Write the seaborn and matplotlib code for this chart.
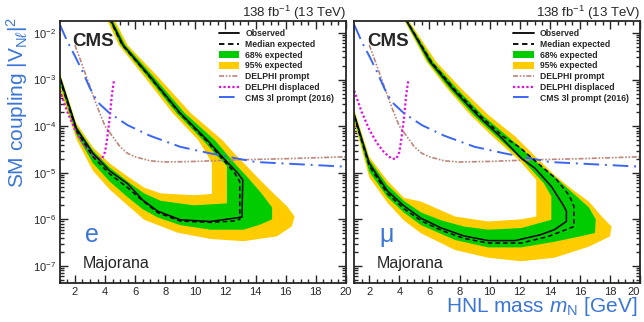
import matplotlib
matplotlib.use('Agg')
import matplotlib.pyplot as plt
import seaborn as sns
from matplotlib.lines import Line2D
from matplotlib.patches import Patch
from matplotlib.ticker import MultipleLocator, LogLocator, NullFormatter

# contours: (HNL mass [GeV], |V|^2)
# each one runs lower branch -> right tip -> upper branch
e_obs = [(1.0, 1.15e-3), (2.1, 9e-5), (3.2, 2.6e-5), (4.3, 1.1e-5), (5.5, 5.8e-6), (6.5, 2.6e-6),
         (7.5, 1.5e-6), (9.0, 9.8e-7), (11.0, 9.0e-7), (12.5, 1.05e-6), (13.1, 1.12e-6),
         (13.15, 7e-6), (12.8, 1.0e-5), (11.9, 2.0e-5), (10.8, 5.0e-5), (9.0, 1.9e-4),
         (7.0, 1.16e-3), (5.2, 5.5e-3), (4.35, 2e-2)]
e_exp = [(1.0, 1.0e-3), (2.1, 8e-5), (3.2, 2.2e-5), (4.3, 9.5e-6), (5.5, 4.8e-6), (6.5, 2.5e-6),
         (7.5, 1.4e-6), (9.0, 9.2e-7), (11.0, 8.6e-7), (12.5, 9.2e-7), (12.95, 1.0e-6),
         (12.95, 6.5e-6), (12.6, 1.0e-5), (11.8, 2.0e-5), (10.7, 5.0e-5), (8.95, 1.9e-4),
         (6.95, 1.16e-3), (5.15, 5.5e-3), (4.3, 2e-2)]
e_p1 = [(1.0, 8.5e-4), (2.1, 6.5e-5), (3.2, 1.6e-5), (4.3, 6.5e-6), (5.5, 3.0e-6), (6.5, 1.65e-6),
        (7.5, 1.1e-6), (9.0, 7.5e-7), (11.0, 6.0e-7), (13.2, 6.0e-7), (14.3, 7.7e-7), (15.1, 1.0e-6),
        (15.1, 1.8e-6), (14.4, 3.6e-6), (13.5, 7.8e-6), (12.6, 1.6e-5), (11.3, 5.0e-5),
        (9.3, 1.9e-4), (7.22, 1.16e-3), (5.35, 5.5e-3), (4.45, 2e-2)]
e_m1 = [(1.0, 1.25e-3), (2.1, 1.0e-4), (3.2, 3.0e-5), (4.3, 1.3e-5), (5.5, 6.5e-6), (6.6, 3.6e-6),
        (7.7, 2.5e-6), (9.9, 2.0e-6), (12.1, 2.2e-6), (12.1, 1.4e-5), (11.5, 2.2e-5),
        (10.5, 5.0e-5), (8.75, 1.9e-4), (6.8, 1.16e-3), (5.05, 5.5e-3), (4.25, 2e-2)]
e_p2 = [(1.0, 6.5e-4), (2.1, 5.2e-5), (3.2, 1.1e-5), (4.3, 4.4e-6), (5.5, 2.0e-6), (6.6, 9.8e-7),
        (8.8, 5.2e-7), (11.0, 3.8e-7), (13.2, 3.4e-7), (15.4, 4.3e-7), (16.4, 7e-7), (16.6, 1.15e-6),
        (16.1, 1.9e-6), (15.2, 3.6e-6), (14.3, 7e-6), (13.4, 1.4e-5), (12.5, 2.8e-5),
        (11.8, 5.0e-5), (9.7, 1.9e-4), (7.5, 1.16e-3), (5.5, 5.5e-3), (4.6, 2e-2)]
e_m2 = [(1.0, 1.4e-3), (2.1, 1.15e-4), (3.2, 3.5e-5), (4.3, 1.6e-5), (5.5, 8.3e-6), (6.6, 4.8e-6),
        (7.7, 3.6e-6), (9.9, 3.3e-6), (11.1, 3.5e-6), (11.1, 1.6e-5), (10.8, 2.4e-5),
        (10.2, 5.0e-5), (8.5, 1.9e-4), (6.6, 1.16e-3), (4.92, 5.5e-3), (4.1, 2e-2)]

mu_obs = [(1.0, 1.8e-4), (2.0, 1.6e-5), (3.2, 4.1e-6), (4.3, 1.95e-6), (5.45, 1.05e-6), (6.8, 6.5e-7),
          (8.3, 4.4e-7), (9.9, 3.5e-7), (11.7, 3.5e-7), (13.4, 4.7e-7), (14.3, 6.0e-7), (15.1, 9.0e-7),
          (15.1, 1.5e-6), (14.9, 2.0e-6), (14.1, 5.1e-6), (13.0, 1.26e-5), (12.1, 2.05e-5),
          (10.7, 6.0e-5), (9.2, 1.7e-4), (7.6, 6.0e-4), (6.05, 2.4e-3), (4.4, 2e-2)]
mu_exp = [(1.0, 1.6e-4), (2.0, 1.4e-5), (3.2, 3.6e-6), (4.3, 1.7e-6), (5.45, 9.3e-7), (6.8, 5.8e-7),
          (8.3, 3.9e-7), (9.9, 3.1e-7), (12.1, 3.1e-7), (13.9, 4.3e-7), (15.6, 7e-7), (15.6, 1.9e-6),
          (15.3, 3.2e-6), (14.4, 7.5e-6), (13.2, 1.6e-5), (12.0, 3.5e-5), (10.9, 6.0e-5),
          (9.35, 1.7e-4), (7.7, 6.0e-4), (6.12, 2.4e-3), (4.42, 2e-2)]
mu_p1 = [(1.0, 1.45e-4), (2.0, 1.05e-5), (3.2, 3.0e-6), (4.3, 1.4e-6), (5.45, 7.5e-7), (7.7, 3.6e-7),
         (9.9, 2.5e-7), (12.1, 2.5e-7), (14.3, 3.3e-7), (16.0, 4.3e-7), (17.0, 5.1e-7), (17.05, 1.0e-6),
         (16.6, 1.8e-6), (15.4, 4.0e-6), (14.3, 8.3e-6), (13.2, 1.6e-5), (12.0, 3.6e-5),
         (11.2, 6.0e-5), (9.55, 1.7e-4), (7.9, 6.0e-4), (6.25, 2.4e-3), (4.48, 2e-2)]
mu_m1 = [(1.0, 2.0e-4), (2.0, 1.9e-5), (3.2, 5.5e-6), (4.3, 2.5e-6), (5.45, 1.4e-6), (6.8, 9.5e-7),
         (8.3, 7.0e-7), (9.9, 6.0e-7), (12.1, 6.5e-7), (14.1, 9.8e-7), (14.1, 3.1e-6), (13.6, 6e-6),
         (12.3, 1.7e-5), (10.45, 6.0e-5), (8.95, 1.7e-4), (7.4, 6.0e-4), (5.9, 2.4e-3), (4.33, 2e-2)]
mu_p2 = [(1.0, 1.25e-4), (2.0, 8e-6), (3.2, 2.3e-6), (4.3, 9.5e-7), (5.45, 5.0e-7), (7.7, 2.2e-7),
         (9.9, 1.5e-7), (12.1, 1.26e-7), (14.3, 1.5e-7), (16.6, 2.6e-7), (18.0, 4.3e-7), (18.1, 7e-7),
         (17.4, 1.2e-6), (16.6, 2.4e-6), (15.4, 4.6e-6), (14.3, 9e-6), (13.0, 2.3e-5),
         (11.7, 6.0e-5), (9.95, 1.7e-4), (8.2, 6.0e-4), (6.45, 2.4e-3), (4.55, 2e-2)]
mu_m2 = [(1.0, 2.3e-4), (2.0, 2.2e-5), (3.2, 6.8e-6), (4.3, 2.9e-6), (5.45, 2.4e-6), (7.7, 1.15e-6),
         (9.9, 9.0e-7), (12.1, 1.0e-6), (13.1, 1.15e-6), (13.1, 7e-6), (12.0, 1.8e-5),
         (10.2, 6.0e-5), (8.75, 1.7e-4), (7.25, 6.0e-4), (5.8, 2.4e-3), (4.27, 2e-2)]

# previous limits (same in both channels)
delphi_prompt = [(2.0, 5.5e-3), (2.5, 2.0e-3), (3.0, 7e-4), (3.5, 2.5e-4), (4.0, 1.0e-4), (4.5, 6e-5),
                 (5.0, 3.6e-5), (5.5, 2.6e-5), (6.0, 2.2e-5), (7.0, 1.8e-5), (8.0, 1.7e-5),
                 (10.0, 1.75e-5), (13.0, 1.9e-5), (16.0, 2.0e-5), (20.0, 2.2e-5)]
delphi_displaced = [(1.0, 5.8e-4), (1.5, 2.0e-4), (2.0, 8.5e-5), (2.5, 4.4e-5), (3.0, 2.7e-5),
                    (3.5, 2.0e-5), (3.8, 2.0e-5), (4.0, 2.8e-5), (4.1, 4.4e-5), (4.3, 1.4e-4),
                    (4.45, 4.5e-4), (4.6, 1.0e-3)]
cms_3l = [(1.0, 1.5e-2), (1.5, 6.5e-3), (2.0, 3.2e-3), (2.5, 1.5e-3), (3.0, 6.5e-4), (3.5, 3.3e-4),
          (4.3, 1.9e-4), (5.5, 1.05e-4), (7.0, 6.2e-5), (9.0, 3.6e-5), (11.0, 2.6e-5),
          (14.0, 1.7e-5), (20.0, 1.35e-5)]

flavours = ['e', 'μ']
mass_ticks = [2, 4, 6, 8, 10, 12, 14, 16, 18, 20]

XLIM = (1, 20)
YLIM = (4.3e-8, 1.81e-2)
GREEN = '#00cc00'
ORANGE = '#ffcc00'
BLUE_TXT = '#3b76d6'
C_PROMPT = '#bc867b'
C_DISP = '#e011e0'
C_3L = '#3a66f2'

sns.set_style('ticks')
plt.rcParams['font.family'] = ['Liberation Sans', 'DejaVu Sans']
plt.rcParams['mathtext.fontset'] = 'custom'
plt.rcParams['mathtext.rm'] = 'Liberation Sans'
plt.rcParams['mathtext.it'] = 'Liberation Sans:italic'
plt.rcParams['mathtext.bf'] = 'Liberation Sans:bold'


def closed(band):
    # close the region through a point off the top left of the frame
    xs = [p[0] for p in band] + [XLIM[0] - 1, XLIM[0] - 1]
    ys = [p[1] for p in band] + [YLIM[1] * 5, band[0][1]]
    return xs, ys


def line(ax, pts, **kw):
    sns.lineplot(x=[p[0] for p in pts], y=[p[1] for p in pts], sort=False,
                 estimator=None, ax=ax, **kw)


fig = plt.figure(figsize=(6.44, 3.22), dpi=100)
ax1 = fig.add_axes([0.093, 0.121, 0.444, 0.814])
ax2 = fig.add_axes([0.550, 0.121, 0.444, 0.814])

panels = [(ax1, e_obs, e_exp, e_p1, e_m1, e_p2, e_m2, flavours[0]),
          (ax2, mu_obs, mu_exp, mu_p1, mu_m1, mu_p2, mu_m2, flavours[1])]

for ax, obs, exp, p1, m1, p2, m2, flav in panels:
    ax.set_yscale('log')
    for band, colour in [(p2, ORANGE), (p1, GREEN), (m1, ORANGE), (m2, 'white')]:
        xs, ys = closed(band)
        ax.fill(xs, ys, color=colour, lw=0)

    line(ax, delphi_prompt, color=C_PROMPT, lw=1.2, linestyle=(0, (3, 1, 1, 1, 1, 1)))
    line(ax, delphi_displaced, color=C_DISP, lw=1.6, linestyle=(0, (1, 1)))
    line(ax, cms_3l, color=C_3L, lw=1.4, linestyle=(0, (8, 3, 1, 3)))
    line(ax, exp, color='black', lw=1.1, linestyle=(0, (3, 2)))
    line(ax, obs, color='black', lw=1.1)

    ax.set_xlim(*XLIM)
    ax.set_ylim(*YLIM)
    ax.set_xticks(mass_ticks)
    ax.set_xticklabels([str(t) for t in mass_ticks])
    ax.xaxis.set_minor_locator(MultipleLocator(0.5))
    ax.yaxis.set_major_locator(LogLocator(base=10, numticks=20))
    ax.yaxis.set_minor_locator(LogLocator(base=10, subs=range(2, 10), numticks=20))
    ax.yaxis.set_minor_formatter(NullFormatter())
    ax.tick_params(which='both', direction='in', top=True, right=True, width=1.0,
                   labelsize=8, pad=2.5)
    ax.tick_params(which='major', length=6)
    ax.tick_params(which='minor', length=3)
    for s in ax.spines.values():
        s.set_linewidth(1.3)
    ax.set_xlabel('')
    ax.set_ylabel('')

    ax.text(0.044, 0.905, 'CMS', transform=ax.transAxes, fontsize=13.5, fontweight='bold',
            va='baseline', ha='left')
    ax.text(1.0, 1.016, r'138 fb$^{-1}$ (13 TeV)', transform=ax.transAxes, fontsize=9.5,
            va='baseline', ha='right')
    ax.text(0.087, 0.155, flav, transform=ax.transAxes, fontsize=18, color=BLUE_TXT,
            va='baseline', ha='left')
    ax.text(0.08, 0.057, 'Majorana', transform=ax.transAxes, fontsize=11.5,
            va='baseline', ha='left')

    handles = [Line2D([], [], color='black', lw=1.3),
               Line2D([], [], color='black', lw=1.3, linestyle=(0, (3, 2))),
               Patch(facecolor=GREEN, edgecolor='none'),
               Patch(facecolor=ORANGE, edgecolor='none'),
               Line2D([], [], color=C_PROMPT, lw=1.2, linestyle=(0, (3, 1, 1, 1, 1, 1))),
               Line2D([], [], color=C_DISP, lw=1.6, linestyle=(0, (1, 1))),
               Line2D([], [], color=C_3L, lw=1.4, linestyle=(0, (8, 3, 1, 3)))]
    labels = ['Observed', 'Median expected', '68% expected', '95% expected',
              'DELPHI prompt', 'DELPHI displaced', 'CMS 3l prompt (2016)']
    ax.legend(handles, labels, loc='upper left', bbox_to_anchor=(0.54, 0.985),
              frameon=False, borderpad=0, prop={'weight': 'bold', 'size': 6.2},
              handlelength=2.4, handletextpad=0.7, labelspacing=0.2, handleheight=0.9)

ax2.tick_params(labelleft=False)
ax2.get_xticklabels()[-1].set_horizontalalignment('right')

fig.text(0.027, 0.947, r'SM coupling $|\mathrm{V}_{\mathrm{N}\ell}|^{2}$', rotation=90,
         fontsize=15, color=BLUE_TXT, ha='center', va='top')
fig.text(0.99, 0.03, r'HNL mass $m_{\mathrm{N}}$ [GeV]', fontsize=15, color=BLUE_TXT,
         ha='right', va='baseline')

fig.savefig('out.png', dpi=100)
